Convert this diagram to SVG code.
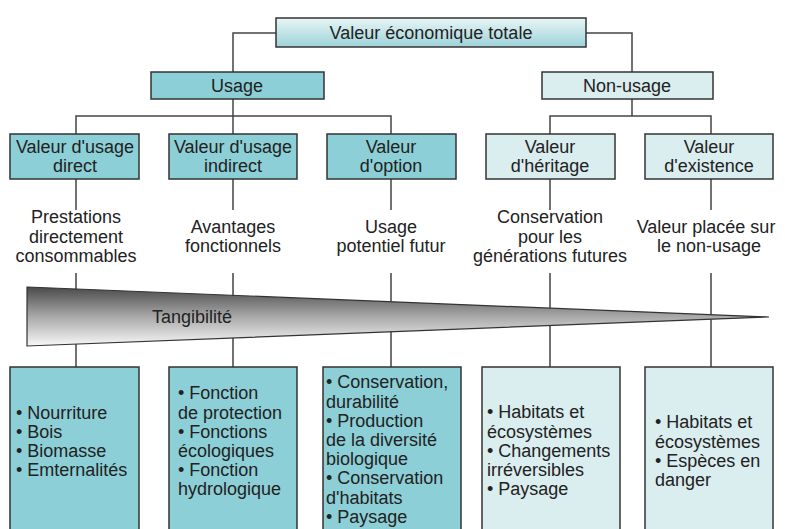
<svg xmlns="http://www.w3.org/2000/svg" width="785" height="529" viewBox="0 0 785 529">
<defs>
<linearGradient id="topGrad" x1="0" y1="0" x2="0" y2="1">
<stop offset="0" stop-color="#e8f5f6"/>
<stop offset="1" stop-color="#9dd3d9"/>
</linearGradient>
<linearGradient id="triGrad" x1="0" y1="0" x2="0" y2="1">
<stop offset="0" stop-color="#4a4a4a"/>
<stop offset="0.5" stop-color="#a8a8a8"/>
<stop offset="1" stop-color="#f8f8f8"/>
</linearGradient>
</defs>
<style>
.box{stroke:#333;stroke-width:1.5}
.dark{fill:#8ccfd6}
.light{fill:#daedef}
.top{fill:url(#topGrad)}
text{font-family:"Liberation Sans",Arial,sans-serif;font-size:18px;fill:#222}
.c{text-anchor:middle}
.conn{fill:none;stroke:#444;stroke-width:1.5}
</style>
<rect width="785" height="529" fill="#ffffff"/>
<g id="connectors">
<path class="conn" d="M276,33 H233 V72"/>
<path class="conn" d="M586,33 H632 V72"/>
<path class="conn" d="M233,99 V116"/>
<path class="conn" d="M76,134 V116 H391 V134"/>
<path class="conn" d="M233,116 V134"/>
<path class="conn" d="M632,99 V116"/>
<path class="conn" d="M550,134 V116 H711 V134"/>
<path class="conn" d="M76,179 V210 M233,179 V210 M391,179 V210 M550,179 V210 M711,179 V210"/>
<path class="conn" d="M76,273 V367 M233,273 V367 M391,273 V367 M550,273 V367 M711,273 V367"/>
</g>
<g id="tangibilite">
<polygon points="27,287 769,317 27,346" fill="url(#triGrad)" stroke="#333" stroke-width="1.2"/>
<text class="c" x="192" y="323">Tangibilité</text>
</g>
<g id="total">
<rect class="box top" x="276" y="18" width="310" height="29"/>
<text class="c" x="431" y="39">Valeur économique totale</text>
</g>
<g id="usage">
<rect class="box dark" x="151" y="72" width="173" height="27"/>
<text class="c" x="237" y="92">Usage</text>
</g>
<g id="nonusage">
<rect class="box light" x="542" y="72" width="171" height="27"/>
<text class="c" x="627" y="92">Non-usage</text>
</g>
<g id="direct">
<rect class="box dark" x="10" y="134" width="129" height="45"/>
<text class="c" x="75" y="153">Valeur d'usage</text>
<text class="c" x="75" y="172">direct</text>
</g>
<g id="indirect">
<rect class="box dark" x="169" y="134" width="128" height="45"/>
<text class="c" x="233" y="153">Valeur d'usage</text>
<text class="c" x="233" y="172">indirect</text>
</g>
<g id="option">
<rect class="box dark" x="327" y="134" width="129" height="45"/>
<text class="c" x="391" y="153">Valeur</text>
<text class="c" x="391" y="172">d'option</text>
</g>
<g id="heritage">
<rect class="box light" x="486" y="134" width="129" height="45"/>
<text class="c" x="550" y="153">Valeur</text>
<text class="c" x="550" y="172">d'héritage</text>
</g>
<g id="existence">
<rect class="box light" x="645" y="134" width="128" height="45"/>
<text class="c" x="709" y="153">Valeur</text>
<text class="c" x="709" y="172">d'existence</text>
</g>
<g id="desc-direct">
<text class="c" x="76" y="223">Prestations</text>
<text class="c" x="76" y="243">directement</text>
<text class="c" x="76" y="262">consommables</text>
</g>
<g id="desc-indirect">
<text class="c" x="233" y="233">Avantages</text>
<text class="c" x="233" y="252">fonctionnels</text>
</g>
<g id="desc-option">
<text class="c" x="391" y="233">Usage</text>
<text class="c" x="391" y="252">potentiel futur</text>
</g>
<g id="desc-heritage">
<text class="c" x="550" y="223">Conservation</text>
<text class="c" x="550" y="243">pour les</text>
<text class="c" x="550" y="262">générations futures</text>
</g>
<g id="desc-existence">
<text class="c" x="706" y="233">Valeur placée sur</text>
<text class="c" x="709" y="252">le non-usage</text>
</g>
<g id="list-direct">
<rect class="box dark" x="10" y="367" width="129" height="170"/>
<text x="16" y="419">• Nourriture</text>
<text x="16" y="438">• Bois</text>
<text x="16" y="457">• Biomasse</text>
<text x="16" y="476">• Emternalités</text>
</g>
<g id="list-indirect">
<rect class="box dark" x="169" y="367" width="128" height="170"/>
<text x="178" y="399">• Fonction</text>
<text x="178" y="418.5">de protection</text>
<text x="178" y="438">• Fonctions</text>
<text x="178" y="457">écologiques</text>
<text x="178" y="476">• Fonction</text>
<text x="178" y="495">hydrologique</text>
</g>
<g id="list-option">
<rect class="box dark" x="323" y="367" width="138" height="170"/>
<text x="326" y="388">• Conservation,</text>
<text x="326" y="407.5">durabilité</text>
<text x="326" y="427">• Production</text>
<text x="326" y="446">de la diversité</text>
<text x="326" y="465">biologique</text>
<text x="326" y="484">• Conservation</text>
<text x="326" y="503.5">d'habitats</text>
<text x="326" y="523">• Paysage</text>
</g>
<g id="list-heritage">
<rect class="box light" x="482" y="367" width="138" height="170"/>
<text x="487" y="418">• Habitats et</text>
<text x="487" y="437.5">écosystèmes</text>
<text x="487" y="457">• Changements</text>
<text x="487" y="476">irréversibles</text>
<text x="487" y="495">• Paysage</text>
</g>
<g id="list-existence">
<rect class="box light" x="645" y="367" width="128" height="170"/>
<text x="655" y="428">• Habitats et</text>
<text x="655" y="447.5">écosystèmes</text>
<text x="655" y="467">• Espèces en</text>
<text x="655" y="486">danger</text>
</g>
</svg>
